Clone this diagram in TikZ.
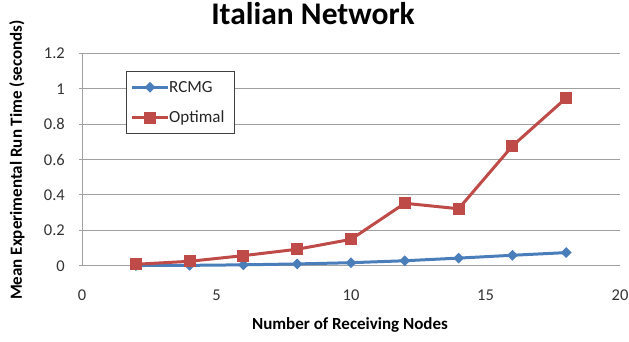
\documentclass[tikz,border=0pt]{standalone}
\usepackage{fontspec}
\setmainfont{Carlito}
\usetikzlibrary{shapes.geometric}
\definecolor{rblue}{HTML}{4A7EBB}
\definecolor{rred}{HTML}{BE4B48}
\definecolor{gridc}{HTML}{A0A0A0}
\tikzset{
  gridline/.style={draw=gridc, line width=0.9bp},
  ticklab/.style={font=\fontsize{16.5bp}{19bp}\selectfont, text=black!80, inner sep=0pt},
  legtext/.style={font=\fontsize{17bp}{19bp}\selectfont, text=black!85, inner sep=0pt},
  axtitle/.style={font=\bfseries\fontsize{17bp}{19bp}\selectfont, inner sep=0pt},
  bluel/.style={draw=rblue, line width=3bp, line join=round},
  redl/.style={draw=rred, line width=3bp, line join=round},
  dmark/.style={diamond, fill=rblue, minimum width=11bp, minimum height=11bp, inner sep=0pt},
  smark/.style={rectangle, fill=rred, minimum width=12bp, minimum height=12bp, inner sep=0pt},
}
\begin{document}
\begin{tikzpicture}[x=1bp,y=-1bp]
\useasboundingbox (0,0) rectangle (629,341);
\node[font=\bfseries\fontsize{31.5bp}{34bp}\selectfont, inner sep=0pt, anchor=base] (title) at (313,24.5) {Italian Network};
\begin{scope}[shift={(82,265.7)}, x=26.9bp, y=176.9bp]
  \foreach \v in {0.2,0.4,0.6,0.8,1,1.2}
    \draw[gridline] (-0.1,\v) -- (20,\v);
  \draw[gridline] (-0.1,0) -- (20,0);
  \draw[gridline] (0,0) -- (0,1.2);
  \foreach \v/\l in {0/0,0.2/0.2,0.4/0.4,0.6/0.6,0.8/0.8,1/1,1.2/1.2}
    \node[ticklab, anchor=east] (yl\l) at (-0.63,\v) {\l};
  \foreach \u in {0,5,10,15,20}
    \node[ticklab] (xl\u) at (\u,-0.165) {\u};
  % RCMG
  \foreach \i/\x/\y in {1/2/0.001,2/4/0.002,3/6/0.005,4/8/0.01,5/10/0.017,6/12/0.028,7/14/0.043,8/16/0.059,9/18/0.074}
    \coordinate (b\i) at (\x,\y);
  \draw[bluel] (b1) -- (b2) -- (b3) -- (b4) -- (b5) -- (b6) -- (b7) -- (b8) -- (b9);
  % Optimal
  \foreach \i/\x/\y in {1/2/0.008,2/4/0.025,3/6/0.057,4/8/0.093,5/10/0.149,6/12/0.353,7/14/0.322,8/16/0.677,9/18/0.948}
    \coordinate (r\i) at (\x,\y);
  \draw[redl] (r1) -- (r2) -- (r3) -- (r4) -- (r5) -- (r6) -- (r7) -- (r8) -- (r9);
  \foreach \i in {1,...,9} \node[dmark] (bm\i) at (b\i) {};
  \foreach \i in {1,...,9} \node[smark] (rm\i) at (r\i) {};
\end{scope}
\node[axtitle, rotate=90] (ytitle) at (17,160) {Mean Experimental Run Time (seconds)};
\node[axtitle] (xtitle) at (350,325) {Number of Receiving Nodes};
% legend
\draw[draw=black!75, fill=white, line width=0.8bp] (126,71.5) rectangle (234,133.5);
\coordinate (lb1) at (132,87.3); \coordinate (lb2) at (168,87.3);
\coordinate (lr1) at (132,117.7); \coordinate (lr2) at (168,117.7);
\draw[bluel] (lb1) -- (lb2);
\node[dmark] (lbm) at (150,87.3) {};
\draw[redl] (lr1) -- (lr2);
\node[smark] (lrm) at (150,117.7) {};
\node[legtext, anchor=west] (lbt) at (169,87.3) {RCMG};
\node[legtext, anchor=west] (lrt) at (169,117.7) {Optimal};
\end{tikzpicture}
\end{document}
